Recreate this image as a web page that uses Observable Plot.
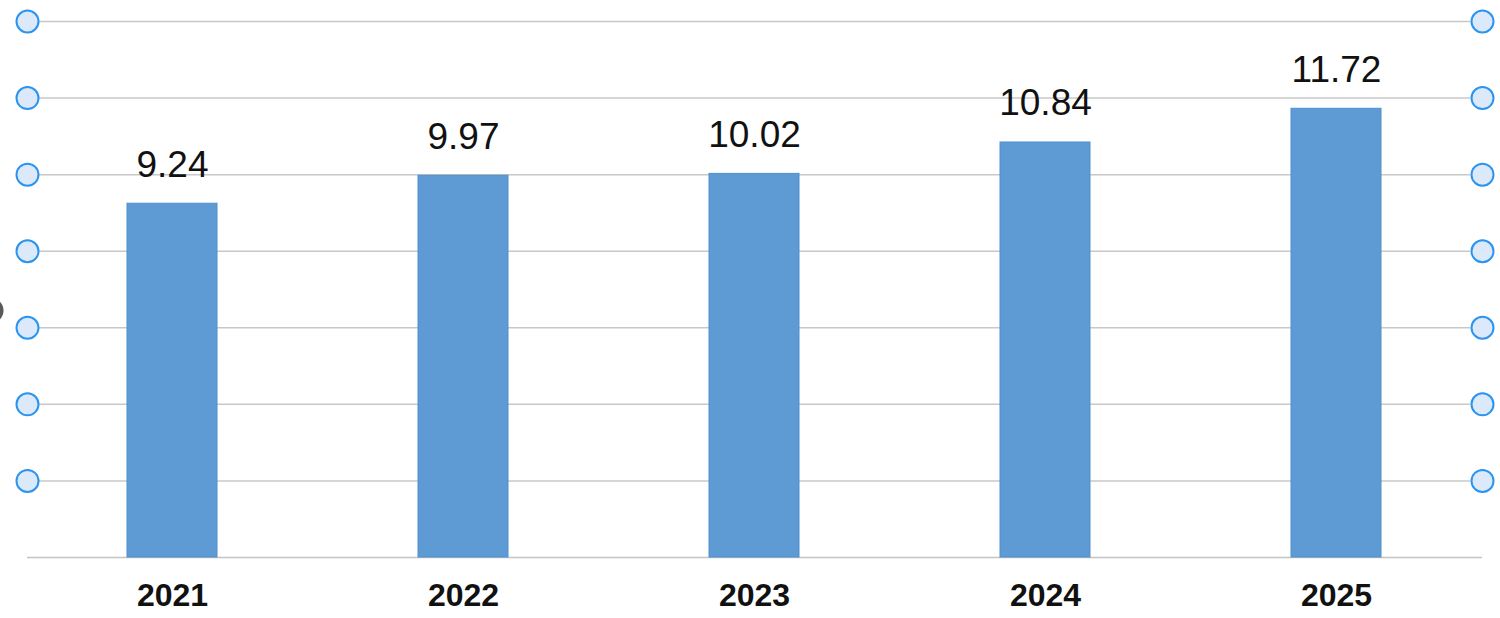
<!DOCTYPE html>
<html>
<head>
<meta charset="utf-8">
<script src="https://cdn.jsdelivr.net/npm/d3@7"></script>
<script src="https://cdn.jsdelivr.net/npm/@observablehq/plot@0.6"></script>
<style>
  html, body { margin: 0; padding: 0; background: #ffffff; }
  #chart { width: 1500px; height: 618px; overflow: hidden; }
</style>
</head>
<body>
<div id="chart"></div>
<script>
const years = ["2021", "2022", "2023", "2024", "2025"];
const values = [9.24, 9.97, 10.02, 10.84, 11.72];
const gridValues = [2, 4, 6, 8, 10, 12, 14];
const handleValue = [6.45];

const data = years.map((year, i) => ({ year, value: values[i] }));

const chart = Plot.plot({
  width: 1500,
  height: 618,
  marginLeft: 27,
  marginRight: 18,
  marginTop: 21,
  marginBottom: 61,
  style: { fontFamily: "'Liberation Sans', Arial, sans-serif", background: "#ffffff", overflow: "visible" },
  x: { domain: years, paddingInner: 0.69, paddingOuter: 0.345, label: null },
  y: { domain: [0, 14], axis: null },
  marks: [
    Plot.ruleY(gridValues, { stroke: "#c8c8c8", strokeWidth: 1.5, insetLeft: 11, insetRight: 12 }),
    Plot.ruleY([0], { stroke: "#c4c4c4", strokeWidth: 1.5 }),
    Plot.barY(data, { x: "year", y: "value", fill: "#5e9bd4", stroke: "#4f8fcd", strokeWidth: 1 }),
    Plot.text(data, {
      x: "year", y: "value", text: d => d.value.toFixed(2),
      lineAnchor: "bottom", dy: -27, fontSize: 37, fill: "#111111"
    }),
    Plot.axisX({ tickSize: 0, tickPadding: 26, fontSize: 32, fontWeight: "bold", label: null, color: "#111111" }),
    Plot.dot(gridValues, { y: d => d, frameAnchor: "left", r: 11, fill: "#dbe9fb", stroke: "#2a94f0", strokeWidth: 2 }),
    Plot.dot(gridValues, { y: d => d, frameAnchor: "right", r: 11, fill: "#dbe9fb", stroke: "#2a94f0", strokeWidth: 2 }),
    Plot.dot(handleValue, { y: d => d, frameAnchor: "left", dx: -37, r: 13, fill: "#5a5a5a" })
  ]
});

document.getElementById("chart").appendChild(chart);
</script>
</body>
</html>
